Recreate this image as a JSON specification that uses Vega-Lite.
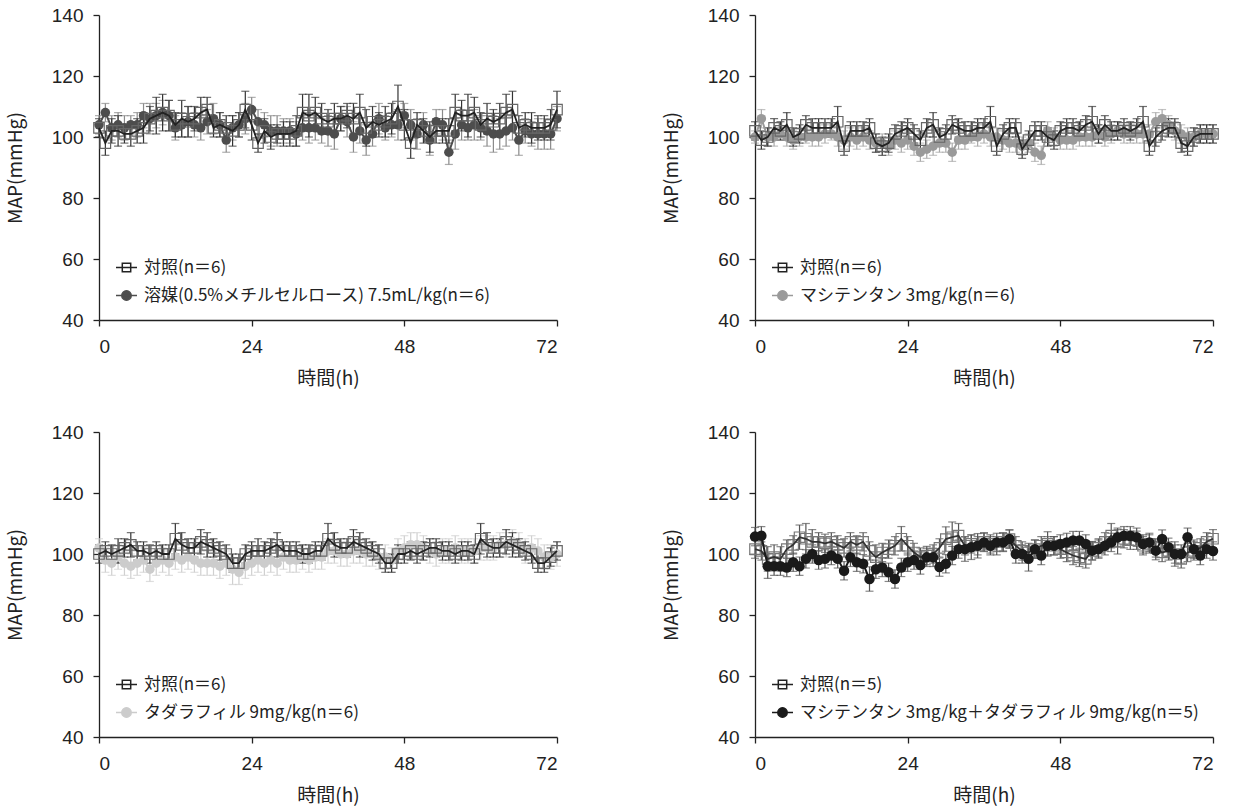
{
"$schema":"https://vega.github.io/schema/vega-lite/v6.json",
"background":"white",
"padding":{"left":6,"top":6,"right":5,"bottom":5},
"datasets":{
"tl":[
{"g":"c","h":0,"v":103,"e":3},{"g":"c","h":1,"v":98,"e":4},{"g":"c","h":2,"v":102,"e":4},{"g":"c","h":3,"v":102,"e":5},{"g":"c","h":4,"v":101,"e":3},{"g":"c","h":5,"v":101,"e":4},{"g":"c","h":6,"v":102,"e":4},{"g":"c","h":7,"v":103,"e":5},{"g":"c","h":8,"v":106,"e":4},{"g":"c","h":9,"v":107,"e":6},
{"g":"c","h":10,"v":108,"e":6},{"g":"c","h":11,"v":107,"e":5},{"g":"c","h":12,"v":104,"e":4},{"g":"c","h":13,"v":106,"e":6},{"g":"c","h":14,"v":105,"e":5},{"g":"c","h":15,"v":106,"e":4},{"g":"c","h":16,"v":108,"e":5},{"g":"c","h":17,"v":109,"e":4},{"g":"c","h":18,"v":103,"e":3},{"g":"c","h":19,"v":104,"e":4},
{"g":"c","h":20,"v":103,"e":4},{"g":"c","h":21,"v":102,"e":5},{"g":"c","h":22,"v":104,"e":4},{"g":"c","h":23,"v":109,"e":6},{"g":"c","h":24,"v":104,"e":5},{"g":"c","h":25,"v":98,"e":3},{"g":"c","h":26,"v":102,"e":4},{"g":"c","h":27,"v":100,"e":4},{"g":"c","h":28,"v":101,"e":3},{"g":"c","h":29,"v":101,"e":4},
{"g":"c","h":30,"v":101,"e":4},{"g":"c","h":31,"v":102,"e":5},{"g":"c","h":32,"v":108,"e":6},{"g":"c","h":33,"v":107,"e":7},{"g":"c","h":34,"v":108,"e":5},{"g":"c","h":35,"v":106,"e":5},{"g":"c","h":36,"v":105,"e":4},{"g":"c","h":37,"v":106,"e":5},{"g":"c","h":38,"v":106,"e":4},{"g":"c","h":39,"v":107,"e":4},
{"g":"c","h":40,"v":106,"e":5},{"g":"c","h":41,"v":108,"e":6},{"g":"c","h":42,"v":103,"e":6},{"g":"c","h":43,"v":105,"e":5},{"g":"c","h":44,"v":104,"e":4},{"g":"c","h":45,"v":105,"e":5},{"g":"c","h":46,"v":106,"e":5},{"g":"c","h":47,"v":110,"e":7},{"g":"c","h":48,"v":104,"e":5},{"g":"c","h":49,"v":98,"e":5},
{"g":"c","h":50,"v":104,"e":4},{"g":"c","h":51,"v":102,"e":4},{"g":"c","h":52,"v":100,"e":5},{"g":"c","h":53,"v":102,"e":4},{"g":"c","h":54,"v":102,"e":4},{"g":"c","h":55,"v":102,"e":4},{"g":"c","h":56,"v":108,"e":6},{"g":"c","h":57,"v":107,"e":5},{"g":"c","h":58,"v":107,"e":7},{"g":"c","h":59,"v":108,"e":5},
{"g":"c","h":60,"v":104,"e":4},{"g":"c","h":61,"v":106,"e":5},{"g":"c","h":62,"v":105,"e":4},{"g":"c","h":63,"v":106,"e":5},{"g":"c","h":64,"v":108,"e":6},{"g":"c","h":65,"v":109,"e":6},{"g":"c","h":66,"v":103,"e":4},{"g":"c","h":67,"v":104,"e":4},{"g":"c","h":68,"v":103,"e":5},{"g":"c","h":69,"v":103,"e":4},
{"g":"c","h":70,"v":103,"e":4},{"g":"c","h":71,"v":104,"e":5},{"g":"c","h":72,"v":109,"e":6},
{"g":"t","h":0,"v":104,"e":3},{"g":"t","h":1,"v":108,"e":3},{"g":"t","h":2,"v":103,"e":4},{"g":"t","h":3,"v":104,"e":4},{"g":"t","h":4,"v":103,"e":4},{"g":"t","h":5,"v":104,"e":3},{"g":"t","h":6,"v":104,"e":4},{"g":"t","h":7,"v":107,"e":4},{"g":"t","h":8,"v":106,"e":5},{"g":"t","h":9,"v":107,"e":4},
{"g":"t","h":10,"v":108,"e":4},{"g":"t","h":11,"v":107,"e":5},{"g":"t","h":12,"v":103,"e":4},{"g":"t","h":13,"v":104,"e":4},{"g":"t","h":14,"v":105,"e":5},{"g":"t","h":15,"v":104,"e":4},{"g":"t","h":16,"v":103,"e":4},{"g":"t","h":17,"v":105,"e":4},{"g":"t","h":18,"v":106,"e":5},{"g":"t","h":19,"v":104,"e":4},
{"g":"t","h":20,"v":99,"e":4},{"g":"t","h":21,"v":103,"e":4},{"g":"t","h":22,"v":104,"e":4},{"g":"t","h":23,"v":106,"e":5},{"g":"t","h":24,"v":109,"e":4},{"g":"t","h":25,"v":105,"e":4},{"g":"t","h":26,"v":104,"e":4},{"g":"t","h":27,"v":102,"e":5},{"g":"t","h":28,"v":102,"e":5},{"g":"t","h":29,"v":102,"e":4},
{"g":"t","h":30,"v":102,"e":4},{"g":"t","h":31,"v":101,"e":4},{"g":"t","h":32,"v":103,"e":4},{"g":"t","h":33,"v":103,"e":5},{"g":"t","h":34,"v":103,"e":4},{"g":"t","h":35,"v":102,"e":4},{"g":"t","h":36,"v":102,"e":5},{"g":"t","h":37,"v":101,"e":5},{"g":"t","h":38,"v":106,"e":4},{"g":"t","h":39,"v":105,"e":5},
{"g":"t","h":40,"v":100,"e":5},{"g":"t","h":41,"v":102,"e":4},{"g":"t","h":42,"v":99,"e":5},{"g":"t","h":43,"v":101,"e":4},{"g":"t","h":44,"v":106,"e":5},{"g":"t","h":45,"v":103,"e":4},{"g":"t","h":46,"v":104,"e":4},{"g":"t","h":47,"v":104,"e":5},{"g":"t","h":48,"v":107,"e":4},{"g":"t","h":49,"v":104,"e":5},
{"g":"t","h":50,"v":101,"e":5},{"g":"t","h":51,"v":104,"e":4},{"g":"t","h":52,"v":99,"e":5},{"g":"t","h":53,"v":105,"e":4},{"g":"t","h":54,"v":104,"e":5},{"g":"t","h":55,"v":95,"e":4},{"g":"t","h":56,"v":101,"e":5},{"g":"t","h":57,"v":104,"e":5},{"g":"t","h":58,"v":103,"e":4},{"g":"t","h":59,"v":104,"e":5},
{"g":"t","h":60,"v":103,"e":4},{"g":"t","h":61,"v":102,"e":5},{"g":"t","h":62,"v":101,"e":6},{"g":"t","h":63,"v":101,"e":5},{"g":"t","h":64,"v":102,"e":5},{"g":"t","h":65,"v":103,"e":4},{"g":"t","h":66,"v":99,"e":5},{"g":"t","h":67,"v":102,"e":4},{"g":"t","h":68,"v":101,"e":4},{"g":"t","h":69,"v":101,"e":5},
{"g":"t","h":70,"v":101,"e":5},{"g":"t","h":71,"v":101,"e":5},{"g":"t","h":72,"v":106,"e":4}
],
"tr":[
{"g":"c","h":0,"v":102,"e":3},{"g":"c","h":1,"v":99,"e":3},{"g":"c","h":2,"v":100,"e":3},{"g":"c","h":3,"v":103,"e":3},{"g":"c","h":4,"v":102,"e":3},{"g":"c","h":5,"v":104,"e":4},{"g":"c","h":6,"v":100,"e":3},{"g":"c","h":7,"v":101,"e":3},{"g":"c","h":8,"v":104,"e":3},{"g":"c","h":9,"v":103,"e":3},
{"g":"c","h":10,"v":103,"e":3},{"g":"c","h":11,"v":103,"e":3},{"g":"c","h":12,"v":103,"e":3},{"g":"c","h":13,"v":105,"e":5},{"g":"c","h":14,"v":97,"e":3},{"g":"c","h":15,"v":102,"e":3},{"g":"c","h":16,"v":102,"e":3},{"g":"c","h":17,"v":102,"e":3},{"g":"c","h":18,"v":103,"e":3},{"g":"c","h":19,"v":98,"e":3},
{"g":"c","h":20,"v":97,"e":3},{"g":"c","h":21,"v":98,"e":3},{"g":"c","h":22,"v":101,"e":3},{"g":"c","h":23,"v":102,"e":3},{"g":"c","h":24,"v":103,"e":3},{"g":"c","h":25,"v":101,"e":3},{"g":"c","h":26,"v":99,"e":3},{"g":"c","h":27,"v":103,"e":3},{"g":"c","h":28,"v":104,"e":4},{"g":"c","h":29,"v":100,"e":3},
{"g":"c","h":30,"v":101,"e":3},{"g":"c","h":31,"v":104,"e":3},{"g":"c","h":32,"v":103,"e":3},{"g":"c","h":33,"v":102,"e":3},{"g":"c","h":34,"v":102,"e":3},{"g":"c","h":35,"v":103,"e":3},{"g":"c","h":36,"v":103,"e":3},{"g":"c","h":37,"v":105,"e":5},{"g":"c","h":38,"v":97,"e":3},{"g":"c","h":39,"v":101,"e":3},
{"g":"c","h":40,"v":103,"e":3},{"g":"c","h":41,"v":103,"e":3},{"g":"c","h":42,"v":96,"e":3},{"g":"c","h":43,"v":99,"e":3},{"g":"c","h":44,"v":102,"e":3},{"g":"c","h":45,"v":102,"e":3},{"g":"c","h":46,"v":100,"e":3},{"g":"c","h":47,"v":99,"e":3},{"g":"c","h":48,"v":102,"e":3},{"g":"c","h":49,"v":103,"e":3},
{"g":"c","h":50,"v":103,"e":3},{"g":"c","h":51,"v":102,"e":3},{"g":"c","h":52,"v":104,"e":3},{"g":"c","h":53,"v":105,"e":5},{"g":"c","h":54,"v":101,"e":3},{"g":"c","h":55,"v":104,"e":3},{"g":"c","h":56,"v":102,"e":3},{"g":"c","h":57,"v":102,"e":3},{"g":"c","h":58,"v":103,"e":3},{"g":"c","h":59,"v":102,"e":3},
{"g":"c","h":60,"v":103,"e":3},{"g":"c","h":61,"v":105,"e":5},{"g":"c","h":62,"v":97,"e":3},{"g":"c","h":63,"v":100,"e":3},{"g":"c","h":64,"v":102,"e":3},{"g":"c","h":65,"v":103,"e":3},{"g":"c","h":66,"v":103,"e":3},{"g":"c","h":67,"v":98,"e":3},{"g":"c","h":68,"v":97,"e":3},{"g":"c","h":69,"v":100,"e":3},
{"g":"c","h":70,"v":101,"e":3},{"g":"c","h":71,"v":101,"e":3},{"g":"c","h":72,"v":101,"e":3},
{"g":"t","h":0,"v":100,"e":2},{"g":"t","h":1,"v":106,"e":3},{"g":"t","h":2,"v":100,"e":3},{"g":"t","h":3,"v":100,"e":3},{"g":"t","h":4,"v":101,"e":2},{"g":"t","h":5,"v":100,"e":3},{"g":"t","h":6,"v":99,"e":3},{"g":"t","h":7,"v":100,"e":3},{"g":"t","h":8,"v":100,"e":2},{"g":"t","h":9,"v":100,"e":3},
{"g":"t","h":10,"v":100,"e":3},{"g":"t","h":11,"v":101,"e":3},{"g":"t","h":12,"v":101,"e":2},{"g":"t","h":13,"v":100,"e":3},{"g":"t","h":14,"v":99,"e":3},{"g":"t","h":15,"v":100,"e":3},{"g":"t","h":16,"v":99,"e":3},{"g":"t","h":17,"v":100,"e":3},{"g":"t","h":18,"v":99,"e":3},{"g":"t","h":19,"v":98,"e":3},
{"g":"t","h":20,"v":98,"e":3},{"g":"t","h":21,"v":97,"e":3},{"g":"t","h":22,"v":99,"e":3},{"g":"t","h":23,"v":98,"e":3},{"g":"t","h":24,"v":99,"e":3},{"g":"t","h":25,"v":97,"e":3},{"g":"t","h":26,"v":95,"e":3},{"g":"t","h":27,"v":96,"e":3},{"g":"t","h":28,"v":97,"e":3},{"g":"t","h":29,"v":98,"e":3},
{"g":"t","h":30,"v":98,"e":3},{"g":"t","h":31,"v":95,"e":3},{"g":"t","h":32,"v":99,"e":3},{"g":"t","h":33,"v":99,"e":3},{"g":"t","h":34,"v":100,"e":2},{"g":"t","h":35,"v":100,"e":3},{"g":"t","h":36,"v":101,"e":3},{"g":"t","h":37,"v":100,"e":3},{"g":"t","h":38,"v":100,"e":3},{"g":"t","h":39,"v":99,"e":3},
{"g":"t","h":40,"v":98,"e":3},{"g":"t","h":41,"v":98,"e":3},{"g":"t","h":42,"v":97,"e":3},{"g":"t","h":43,"v":98,"e":3},{"g":"t","h":44,"v":95,"e":3},{"g":"t","h":45,"v":94,"e":3},{"g":"t","h":46,"v":102,"e":3},{"g":"t","h":47,"v":100,"e":3},{"g":"t","h":48,"v":99,"e":3},{"g":"t","h":49,"v":99,"e":3},
{"g":"t","h":50,"v":99,"e":3},{"g":"t","h":51,"v":100,"e":3},{"g":"t","h":52,"v":100,"e":3},{"g":"t","h":53,"v":100,"e":3},{"g":"t","h":54,"v":101,"e":3},{"g":"t","h":55,"v":100,"e":3},{"g":"t","h":56,"v":101,"e":3},{"g":"t","h":57,"v":102,"e":3},{"g":"t","h":58,"v":101,"e":3},{"g":"t","h":59,"v":101,"e":3},
{"g":"t","h":60,"v":101,"e":3},{"g":"t","h":61,"v":101,"e":3},{"g":"t","h":62,"v":101,"e":3},{"g":"t","h":63,"v":105,"e":3},{"g":"t","h":64,"v":106,"e":3},{"g":"t","h":65,"v":104,"e":3},{"g":"t","h":66,"v":102,"e":3},{"g":"t","h":67,"v":101,"e":3},{"g":"t","h":68,"v":100,"e":3},{"g":"t","h":69,"v":100,"e":3},
{"g":"t","h":70,"v":101,"e":3},{"g":"t","h":71,"v":101,"e":3},{"g":"t","h":72,"v":101,"e":3}
],
"bl":[
{"g":"c","h":0,"v":100,"e":3},{"g":"c","h":1,"v":101,"e":3},{"g":"c","h":2,"v":100,"e":3},{"g":"c","h":3,"v":101,"e":4},{"g":"c","h":4,"v":102,"e":3},{"g":"c","h":5,"v":103,"e":4},{"g":"c","h":6,"v":101,"e":3},{"g":"c","h":7,"v":101,"e":3},{"g":"c","h":8,"v":100,"e":3},{"g":"c","h":9,"v":101,"e":3},
{"g":"c","h":10,"v":100,"e":3},{"g":"c","h":11,"v":100,"e":3},{"g":"c","h":12,"v":105,"e":5},{"g":"c","h":13,"v":103,"e":4},{"g":"c","h":14,"v":102,"e":3},{"g":"c","h":15,"v":102,"e":3},{"g":"c","h":16,"v":104,"e":4},{"g":"c","h":17,"v":103,"e":4},{"g":"c","h":18,"v":102,"e":3},{"g":"c","h":19,"v":101,"e":3},
{"g":"c","h":20,"v":100,"e":3},{"g":"c","h":21,"v":97,"e":3},{"g":"c","h":22,"v":97,"e":3},{"g":"c","h":23,"v":100,"e":3},{"g":"c","h":24,"v":101,"e":3},{"g":"c","h":25,"v":101,"e":4},{"g":"c","h":26,"v":101,"e":3},{"g":"c","h":27,"v":102,"e":3},{"g":"c","h":28,"v":103,"e":4},{"g":"c","h":29,"v":101,"e":3},
{"g":"c","h":30,"v":101,"e":3},{"g":"c","h":31,"v":101,"e":3},{"g":"c","h":32,"v":100,"e":3},{"g":"c","h":33,"v":100,"e":3},{"g":"c","h":34,"v":101,"e":3},{"g":"c","h":35,"v":101,"e":3},{"g":"c","h":36,"v":105,"e":5},{"g":"c","h":37,"v":103,"e":4},{"g":"c","h":38,"v":102,"e":3},{"g":"c","h":39,"v":102,"e":3},
{"g":"c","h":40,"v":104,"e":4},{"g":"c","h":41,"v":103,"e":4},{"g":"c","h":42,"v":102,"e":3},{"g":"c","h":43,"v":101,"e":3},{"g":"c","h":44,"v":100,"e":3},{"g":"c","h":45,"v":97,"e":3},{"g":"c","h":46,"v":97,"e":3},{"g":"c","h":47,"v":100,"e":3},{"g":"c","h":48,"v":100,"e":3},{"g":"c","h":49,"v":101,"e":3},
{"g":"c","h":50,"v":100,"e":3},{"g":"c","h":51,"v":101,"e":3},{"g":"c","h":52,"v":102,"e":3},{"g":"c","h":53,"v":102,"e":3},{"g":"c","h":54,"v":101,"e":3},{"g":"c","h":55,"v":101,"e":3},{"g":"c","h":56,"v":100,"e":3},{"g":"c","h":57,"v":101,"e":3},{"g":"c","h":58,"v":101,"e":3},{"g":"c","h":59,"v":100,"e":3},
{"g":"c","h":60,"v":105,"e":5},{"g":"c","h":61,"v":103,"e":4},{"g":"c","h":62,"v":102,"e":3},{"g":"c","h":63,"v":102,"e":3},{"g":"c","h":64,"v":104,"e":4},{"g":"c","h":65,"v":103,"e":4},{"g":"c","h":66,"v":102,"e":3},{"g":"c","h":67,"v":101,"e":3},{"g":"c","h":68,"v":100,"e":3},{"g":"c","h":69,"v":97,"e":3},
{"g":"c","h":70,"v":97,"e":3},{"g":"c","h":71,"v":99,"e":3},{"g":"c","h":72,"v":101,"e":3},
{"g":"t","h":0,"v":102,"e":3},{"g":"t","h":1,"v":98,"e":4},{"g":"t","h":2,"v":97,"e":4},{"g":"t","h":3,"v":99,"e":4},{"g":"t","h":4,"v":97,"e":4},{"g":"t","h":5,"v":96,"e":4},{"g":"t","h":6,"v":97,"e":4},{"g":"t","h":7,"v":98,"e":4},{"g":"t","h":8,"v":95,"e":4},{"g":"t","h":9,"v":97,"e":4},
{"g":"t","h":10,"v":98,"e":4},{"g":"t","h":11,"v":97,"e":4},{"g":"t","h":12,"v":99,"e":4},{"g":"t","h":13,"v":98,"e":4},{"g":"t","h":14,"v":99,"e":4},{"g":"t","h":15,"v":98,"e":4},{"g":"t","h":16,"v":97,"e":4},{"g":"t","h":17,"v":97,"e":4},{"g":"t","h":18,"v":97,"e":4},{"g":"t","h":19,"v":96,"e":4},
{"g":"t","h":20,"v":97,"e":4},{"g":"t","h":21,"v":95,"e":5},{"g":"t","h":22,"v":94,"e":4},{"g":"t","h":23,"v":96,"e":4},{"g":"t","h":24,"v":97,"e":4},{"g":"t","h":25,"v":98,"e":4},{"g":"t","h":26,"v":97,"e":4},{"g":"t","h":27,"v":98,"e":4},{"g":"t","h":28,"v":97,"e":4},{"g":"t","h":29,"v":99,"e":4},
{"g":"t","h":30,"v":98,"e":4},{"g":"t","h":31,"v":98,"e":4},{"g":"t","h":32,"v":99,"e":4},{"g":"t","h":33,"v":98,"e":4},{"g":"t","h":34,"v":99,"e":4},{"g":"t","h":35,"v":99,"e":4},{"g":"t","h":36,"v":101,"e":4},{"g":"t","h":37,"v":101,"e":4},{"g":"t","h":38,"v":100,"e":4},{"g":"t","h":39,"v":100,"e":4},
{"g":"t","h":40,"v":101,"e":4},{"g":"t","h":41,"v":101,"e":4},{"g":"t","h":42,"v":100,"e":4},{"g":"t","h":43,"v":100,"e":4},{"g":"t","h":44,"v":99,"e":4},{"g":"t","h":45,"v":99,"e":4},{"g":"t","h":46,"v":98,"e":4},{"g":"t","h":47,"v":101,"e":4},{"g":"t","h":48,"v":102,"e":4},{"g":"t","h":49,"v":103,"e":4},
{"g":"t","h":50,"v":103,"e":4},{"g":"t","h":51,"v":102,"e":4},{"g":"t","h":52,"v":101,"e":4},{"g":"t","h":53,"v":100,"e":4},{"g":"t","h":54,"v":101,"e":4},{"g":"t","h":55,"v":101,"e":4},{"g":"t","h":56,"v":102,"e":4},{"g":"t","h":57,"v":101,"e":4},{"g":"t","h":58,"v":101,"e":4},{"g":"t","h":59,"v":101,"e":4},
{"g":"t","h":60,"v":102,"e":4},{"g":"t","h":61,"v":102,"e":4},{"g":"t","h":62,"v":102,"e":4},{"g":"t","h":63,"v":103,"e":4},{"g":"t","h":64,"v":103,"e":4},{"g":"t","h":65,"v":104,"e":4},{"g":"t","h":66,"v":103,"e":4},{"g":"t","h":67,"v":101,"e":4},{"g":"t","h":68,"v":102,"e":4},{"g":"t","h":69,"v":101,"e":4},
{"g":"t","h":70,"v":99,"e":4},{"g":"t","h":71,"v":99,"e":4},{"g":"t","h":72,"v":100,"e":4}
],
"br":[
{"g":"c","h":0,"v":101.6,"e":3},{"g":"c","h":1,"v":101,"e":3},{"g":"c","h":2,"v":98.4,"e":4},{"g":"c","h":3,"v":99,"e":4},{"g":"c","h":4,"v":98.4,"e":4},{"g":"c","h":5,"v":101.6,"e":3},{"g":"c","h":6,"v":103,"e":3},{"g":"c","h":7,"v":105.5,"e":4},{"g":"c","h":8,"v":105,"e":5},{"g":"c","h":9,"v":104,"e":4},
{"g":"c","h":10,"v":104,"e":3},{"g":"c","h":11,"v":103.5,"e":3},{"g":"c","h":12,"v":104,"e":3},{"g":"c","h":13,"v":103,"e":3},{"g":"c","h":14,"v":102,"e":3},{"g":"c","h":15,"v":104,"e":3},{"g":"c","h":16,"v":103,"e":3},{"g":"c","h":17,"v":104,"e":3},{"g":"c","h":18,"v":101,"e":3},{"g":"c","h":19,"v":99,"e":4},
{"g":"c","h":20,"v":100.5,"e":3},{"g":"c","h":21,"v":101.6,"e":3},{"g":"c","h":22,"v":102.7,"e":3},{"g":"c","h":23,"v":105,"e":4},{"g":"c","h":24,"v":102.7,"e":3},{"g":"c","h":25,"v":100.5,"e":3},{"g":"c","h":26,"v":99,"e":3},{"g":"c","h":27,"v":99.5,"e":3},{"g":"c","h":28,"v":100,"e":3},{"g":"c","h":29,"v":102,"e":3},
{"g":"c","h":30,"v":104.9,"e":4},{"g":"c","h":31,"v":105.5,"e":5},{"g":"c","h":32,"v":106,"e":4},{"g":"c","h":33,"v":102.7,"e":3},{"g":"c","h":34,"v":103.3,"e":3},{"g":"c","h":35,"v":102.7,"e":3},{"g":"c","h":36,"v":104,"e":3},{"g":"c","h":37,"v":103.3,"e":3},{"g":"c","h":38,"v":102.7,"e":3},{"g":"c","h":39,"v":104,"e":3},
{"g":"c","h":40,"v":104.9,"e":3},{"g":"c","h":41,"v":102.7,"e":3},{"g":"c","h":42,"v":101,"e":3},{"g":"c","h":43,"v":100.5,"e":3},{"g":"c","h":44,"v":101.6,"e":3},{"g":"c","h":45,"v":102.7,"e":3},{"g":"c","h":46,"v":103.3,"e":4},{"g":"c","h":47,"v":102.7,"e":3},{"g":"c","h":48,"v":101.6,"e":3},{"g":"c","h":49,"v":100.5,"e":3},
{"g":"c","h":50,"v":99.5,"e":3},{"g":"c","h":51,"v":98.9,"e":3},{"g":"c","h":52,"v":98.4,"e":3},{"g":"c","h":53,"v":101,"e":3},{"g":"c","h":54,"v":102,"e":3},{"g":"c","h":55,"v":104,"e":3},{"g":"c","h":56,"v":106,"e":4},{"g":"c","h":57,"v":104,"e":4},{"g":"c","h":58,"v":105,"e":3},{"g":"c","h":59,"v":104.5,"e":3},
{"g":"c","h":60,"v":104.5,"e":3},{"g":"c","h":61,"v":102.7,"e":3},{"g":"c","h":62,"v":103.3,"e":3},{"g":"c","h":63,"v":102,"e":3},{"g":"c","h":64,"v":100.5,"e":3},{"g":"c","h":65,"v":101,"e":3},{"g":"c","h":66,"v":100,"e":3},{"g":"c","h":67,"v":98.4,"e":3},{"g":"c","h":68,"v":100.5,"e":3},{"g":"c","h":69,"v":101,"e":3},
{"g":"c","h":70,"v":102,"e":3},{"g":"c","h":71,"v":104,"e":3},{"g":"c","h":72,"v":105,"e":3},
{"g":"t","h":0,"v":105.7,"e":3},{"g":"t","h":1,"v":106,"e":3},{"g":"t","h":2,"v":96,"e":4},{"g":"t","h":3,"v":96,"e":3},{"g":"t","h":4,"v":96,"e":3},{"g":"t","h":5,"v":95.6,"e":3},{"g":"t","h":6,"v":97.3,"e":3},{"g":"t","h":7,"v":96,"e":3},{"g":"t","h":8,"v":98.4,"e":3},{"g":"t","h":9,"v":100,"e":3},
{"g":"t","h":10,"v":98,"e":3},{"g":"t","h":11,"v":98.4,"e":3},{"g":"t","h":12,"v":99.5,"e":3},{"g":"t","h":13,"v":98.4,"e":3},{"g":"t","h":14,"v":94.5,"e":3},{"g":"t","h":15,"v":98.9,"e":3},{"g":"t","h":16,"v":97.3,"e":3},{"g":"t","h":17,"v":96.8,"e":3},{"g":"t","h":18,"v":91.8,"e":4},{"g":"t","h":19,"v":95,"e":3},
{"g":"t","h":20,"v":95.6,"e":3},{"g":"t","h":21,"v":94,"e":3},{"g":"t","h":22,"v":91.8,"e":3},{"g":"t","h":23,"v":95.6,"e":3},{"g":"t","h":24,"v":97.3,"e":3},{"g":"t","h":25,"v":98,"e":3},{"g":"t","h":26,"v":96.4,"e":3},{"g":"t","h":27,"v":98.9,"e":3},{"g":"t","h":28,"v":98.9,"e":3},{"g":"t","h":29,"v":95.7,"e":3},
{"g":"t","h":30,"v":96.8,"e":3},{"g":"t","h":31,"v":99.5,"e":3},{"g":"t","h":32,"v":101.6,"e":3},{"g":"t","h":33,"v":101.6,"e":4},{"g":"t","h":34,"v":102.2,"e":4},{"g":"t","h":35,"v":102.7,"e":4},{"g":"t","h":36,"v":103.8,"e":3},{"g":"t","h":37,"v":102.7,"e":3},{"g":"t","h":38,"v":103.8,"e":3},{"g":"t","h":39,"v":103.8,"e":3},
{"g":"t","h":40,"v":104.9,"e":3},{"g":"t","h":41,"v":100,"e":3},{"g":"t","h":42,"v":100,"e":3},{"g":"t","h":43,"v":98.4,"e":4},{"g":"t","h":44,"v":101.6,"e":3},{"g":"t","h":45,"v":99.5,"e":3},{"g":"t","h":46,"v":102.7,"e":3},{"g":"t","h":47,"v":102.7,"e":3},{"g":"t","h":48,"v":103.3,"e":3},{"g":"t","h":49,"v":103.8,"e":3},
{"g":"t","h":50,"v":104.4,"e":3},{"g":"t","h":51,"v":104.4,"e":3},{"g":"t","h":52,"v":103.3,"e":3},{"g":"t","h":53,"v":101.1,"e":3},{"g":"t","h":54,"v":101.6,"e":3},{"g":"t","h":55,"v":102.7,"e":3},{"g":"t","h":56,"v":103.8,"e":3},{"g":"t","h":57,"v":105.5,"e":3},{"g":"t","h":58,"v":106,"e":3},{"g":"t","h":59,"v":106,"e":3},
{"g":"t","h":60,"v":105.5,"e":3},{"g":"t","h":61,"v":103.3,"e":3},{"g":"t","h":62,"v":103.8,"e":3},{"g":"t","h":63,"v":101.1,"e":3},{"g":"t","h":64,"v":104.9,"e":3},{"g":"t","h":65,"v":102.2,"e":3},{"g":"t","h":66,"v":100,"e":4},{"g":"t","h":67,"v":100,"e":3},{"g":"t","h":68,"v":105.5,"e":3},{"g":"t","h":69,"v":101.6,"e":3},
{"g":"t","h":70,"v":99.5,"e":3},{"g":"t","h":71,"v":101.6,"e":3},{"g":"t","h":72,"v":101,"e":3}
]
},
"spacing":35,
"resolve":{"scale":{"shape":"independent","fill":"independent","stroke":"independent"},"legend":{"shape":"independent","fill":"independent","stroke":"independent"}},
"vconcat":[
{"spacing":95,
"resolve":{"scale":{"shape":"independent","fill":"independent","stroke":"independent"},"legend":{"shape":"independent","fill":"independent","stroke":"independent"}},
"hconcat":[
{"width":458,"height":305,"data":{"name":"tl"},
"encoding":{"x":{"field":"h","type":"quantitative","scale":{"domain":[0,72],"nice":false,"zero":false},"axis":{"values":[0,24,48,72],"title":"時間(h)"}},
"y":{"field":"v","type":"quantitative","scale":{"domain":[40,140],"nice":false,"zero":false},"axis":{"values":[40,60,80,100,120,140],"title":"MAP(mmHg)"}}},
"layer":[
{"transform":[{"filter":"datum.g==='t'"}],"mark":{"type":"errorbar","ticks":{"size":8},"color":"#8a8a8a","thickness":1.2},"encoding":{"yError":{"field":"e"}}},
{"transform":[{"filter":"datum.g==='c'"}],"mark":{"type":"errorbar","ticks":{"size":8},"color":"#333333","thickness":1.2},"encoding":{"yError":{"field":"e"}}},
{"transform":[{"filter":"datum.g==='t'"}],"mark":{"type":"line","color":"#4d4d4d","strokeWidth":2},"encoding":{}},
{"transform":[{"filter":"datum.g==='t'"}],"mark":{"type":"point","shape":"circle","filled":true,"color":"#4d4d4d","size":90,"opacity":1}},
{"transform":[{"filter":"datum.g==='c'"}],"mark":{"type":"point","shape":"square","filled":false,"color":"#666666","size":110,"strokeWidth":1.2,"opacity":1}},
{"transform":[{"filter":"datum.g==='c'"}],"mark":{"type":"line","color":"#222222","strokeWidth":1.8},"encoding":{}},
{"mark":{"type":"point","opacity":0,"size":400,"filled":true},
"encoding":{
"shape":{"field":"g","type":"nominal","scale":{"domain":["c","t"],"range":["M-1,0H1M-0.4,-0.4H0.4V0.4H-0.4Z","M-1,0H1M-0.45,0A0.45,0.45 0 1,1 0.45,0A0.45,0.45 0 1,1 -0.45,0Z"]},"legend":{"title":null,"labelExpr":"datum.value==='c'?'対照(n＝6)':'溶媒(0.5%メチルセルロース) 7.5mL/kg(n＝6)'","encode":{"symbols":{"update":{"size":{"value":441},"opacity":{"value":1},"fillOpacity":{"value":1},"strokeWidth":{"value":1.5},"fill":{"signal":"datum.value==='c'?'transparent':'#4d4d4d'"},"stroke":{"signal":"datum.value==='c'?'#222222':'#4d4d4d'"}}}}}},
"fill":{"field":"g","type":"nominal","scale":{"domain":["c","t"],"range":["transparent","#4d4d4d"]},"legend":{"title":null,"labelExpr":"datum.value==='c'?'対照(n＝6)':'溶媒(0.5%メチルセルロース) 7.5mL/kg(n＝6)'","encode":{"symbols":{"update":{"size":{"value":441},"opacity":{"value":1},"fillOpacity":{"value":1},"strokeWidth":{"value":1.5},"fill":{"signal":"datum.value==='c'?'transparent':'#4d4d4d'"},"stroke":{"signal":"datum.value==='c'?'#222222':'#4d4d4d'"}}}}}},
"stroke":{"field":"g","type":"nominal","scale":{"domain":["c","t"],"range":["#222222","#4d4d4d"]},"legend":{"title":null,"labelExpr":"datum.value==='c'?'対照(n＝6)':'溶媒(0.5%メチルセルロース) 7.5mL/kg(n＝6)'","encode":{"symbols":{"update":{"size":{"value":441},"opacity":{"value":1},"fillOpacity":{"value":1},"strokeWidth":{"value":1.5},"fill":{"signal":"datum.value==='c'?'transparent':'#4d4d4d'"},"stroke":{"signal":"datum.value==='c'?'#222222':'#4d4d4d'"}}}}}}}}
]},
{"width":458,"height":305,"data":{"name":"tr"},
"encoding":{"x":{"field":"h","type":"quantitative","scale":{"domain":[0,72],"nice":false,"zero":false},"axis":{"values":[0,24,48,72],"title":"時間(h)"}},
"y":{"field":"v","type":"quantitative","scale":{"domain":[40,140],"nice":false,"zero":false},"axis":{"values":[40,60,80,100,120,140],"title":"MAP(mmHg)"}}},
"layer":[
{"transform":[{"filter":"datum.g==='t'"}],"mark":{"type":"errorbar","ticks":{"size":8},"color":"#aaaaaa","thickness":1.2},"encoding":{"yError":{"field":"e"}}},
{"transform":[{"filter":"datum.g==='c'"}],"mark":{"type":"errorbar","ticks":{"size":8},"color":"#333333","thickness":1.2},"encoding":{"yError":{"field":"e"}}},
{"transform":[{"filter":"datum.g==='t'"}],"mark":{"type":"line","color":"#9a9a9a","strokeWidth":2},"encoding":{}},
{"transform":[{"filter":"datum.g==='t'"}],"mark":{"type":"point","shape":"circle","filled":true,"color":"#9a9a9a","size":90,"opacity":1}},
{"transform":[{"filter":"datum.g==='c'"}],"mark":{"type":"point","shape":"square","filled":false,"color":"#666666","size":110,"strokeWidth":1.2,"opacity":1}},
{"transform":[{"filter":"datum.g==='c'"}],"mark":{"type":"line","color":"#222222","strokeWidth":1.8},"encoding":{}},
{"mark":{"type":"point","opacity":0,"size":400,"filled":true},
"encoding":{
"shape":{"field":"g","type":"nominal","scale":{"domain":["c","t"],"range":["M-1,0H1M-0.4,-0.4H0.4V0.4H-0.4Z","M-1,0H1M-0.45,0A0.45,0.45 0 1,1 0.45,0A0.45,0.45 0 1,1 -0.45,0Z"]},"legend":{"title":null,"labelExpr":"datum.value==='c'?'対照(n＝6)':'マシテンタン 3mg/kg(n＝6)'","encode":{"symbols":{"update":{"size":{"value":441},"opacity":{"value":1},"fillOpacity":{"value":1},"strokeWidth":{"value":1.5},"fill":{"signal":"datum.value==='c'?'transparent':'#9a9a9a'"},"stroke":{"signal":"datum.value==='c'?'#222222':'#9a9a9a'"}}}}}},
"fill":{"field":"g","type":"nominal","scale":{"domain":["c","t"],"range":["transparent","#9a9a9a"]},"legend":{"title":null,"labelExpr":"datum.value==='c'?'対照(n＝6)':'マシテンタン 3mg/kg(n＝6)'","encode":{"symbols":{"update":{"size":{"value":441},"opacity":{"value":1},"fillOpacity":{"value":1},"strokeWidth":{"value":1.5},"fill":{"signal":"datum.value==='c'?'transparent':'#9a9a9a'"},"stroke":{"signal":"datum.value==='c'?'#222222':'#9a9a9a'"}}}}}},
"stroke":{"field":"g","type":"nominal","scale":{"domain":["c","t"],"range":["#222222","#9a9a9a"]},"legend":{"title":null,"labelExpr":"datum.value==='c'?'対照(n＝6)':'マシテンタン 3mg/kg(n＝6)'","encode":{"symbols":{"update":{"size":{"value":441},"opacity":{"value":1},"fillOpacity":{"value":1},"strokeWidth":{"value":1.5},"fill":{"signal":"datum.value==='c'?'transparent':'#9a9a9a'"},"stroke":{"signal":"datum.value==='c'?'#222222':'#9a9a9a'"}}}}}}}}
]}
]},
{"spacing":95,
"resolve":{"scale":{"shape":"independent","fill":"independent","stroke":"independent"},"legend":{"shape":"independent","fill":"independent","stroke":"independent"}},
"hconcat":[
{"width":458,"height":305,"data":{"name":"bl"},
"encoding":{"x":{"field":"h","type":"quantitative","scale":{"domain":[0,72],"nice":false,"zero":false},"axis":{"values":[0,24,48,72],"title":"時間(h)"}},
"y":{"field":"v","type":"quantitative","scale":{"domain":[40,140],"nice":false,"zero":false},"axis":{"values":[40,60,80,100,120,140],"title":"MAP(mmHg)"}}},
"layer":[
{"transform":[{"filter":"datum.g==='t'"}],"mark":{"type":"errorbar","ticks":{"size":8},"color":"#d0d0d0","thickness":1.2},"encoding":{"yError":{"field":"e"}}},
{"transform":[{"filter":"datum.g==='c'"}],"mark":{"type":"errorbar","ticks":{"size":8},"color":"#333333","thickness":1.2},"encoding":{"yError":{"field":"e"}}},
{"transform":[{"filter":"datum.g==='t'"}],"mark":{"type":"line","color":"#cccccc","strokeWidth":2},"encoding":{}},
{"transform":[{"filter":"datum.g==='t'"}],"mark":{"type":"point","shape":"circle","filled":true,"color":"#cccccc","size":90,"opacity":1}},
{"transform":[{"filter":"datum.g==='c'"}],"mark":{"type":"point","shape":"square","filled":false,"color":"#666666","size":110,"strokeWidth":1.2,"opacity":1}},
{"transform":[{"filter":"datum.g==='c'"}],"mark":{"type":"line","color":"#222222","strokeWidth":1.8},"encoding":{}},
{"mark":{"type":"point","opacity":0,"size":400,"filled":true},
"encoding":{
"shape":{"field":"g","type":"nominal","scale":{"domain":["c","t"],"range":["M-1,0H1M-0.4,-0.4H0.4V0.4H-0.4Z","M-1,0H1M-0.45,0A0.45,0.45 0 1,1 0.45,0A0.45,0.45 0 1,1 -0.45,0Z"]},"legend":{"title":null,"labelExpr":"datum.value==='c'?'対照(n＝6)':'タダラフィル 9mg/kg(n＝6)'","encode":{"symbols":{"update":{"size":{"value":441},"opacity":{"value":1},"fillOpacity":{"value":1},"strokeWidth":{"value":1.5},"fill":{"signal":"datum.value==='c'?'transparent':'#cccccc'"},"stroke":{"signal":"datum.value==='c'?'#222222':'#cccccc'"}}}}}},
"fill":{"field":"g","type":"nominal","scale":{"domain":["c","t"],"range":["transparent","#cccccc"]},"legend":{"title":null,"labelExpr":"datum.value==='c'?'対照(n＝6)':'タダラフィル 9mg/kg(n＝6)'","encode":{"symbols":{"update":{"size":{"value":441},"opacity":{"value":1},"fillOpacity":{"value":1},"strokeWidth":{"value":1.5},"fill":{"signal":"datum.value==='c'?'transparent':'#cccccc'"},"stroke":{"signal":"datum.value==='c'?'#222222':'#cccccc'"}}}}}},
"stroke":{"field":"g","type":"nominal","scale":{"domain":["c","t"],"range":["#222222","#cccccc"]},"legend":{"title":null,"labelExpr":"datum.value==='c'?'対照(n＝6)':'タダラフィル 9mg/kg(n＝6)'","encode":{"symbols":{"update":{"size":{"value":441},"opacity":{"value":1},"fillOpacity":{"value":1},"strokeWidth":{"value":1.5},"fill":{"signal":"datum.value==='c'?'transparent':'#cccccc'"},"stroke":{"signal":"datum.value==='c'?'#222222':'#cccccc'"}}}}}}}}
]},
{"width":458,"height":305,"data":{"name":"br"},
"encoding":{"x":{"field":"h","type":"quantitative","scale":{"domain":[0,72],"nice":false,"zero":false},"axis":{"values":[0,24,48,72],"title":"時間(h)"}},
"y":{"field":"v","type":"quantitative","scale":{"domain":[40,140],"nice":false,"zero":false},"axis":{"values":[40,60,80,100,120,140],"title":"MAP(mmHg)"}}},
"layer":[
{"transform":[{"filter":"datum.g==='t'"}],"mark":{"type":"errorbar","ticks":{"size":8},"color":"#555555","thickness":1.2},"encoding":{"yError":{"field":"e"}}},
{"transform":[{"filter":"datum.g==='c'"}],"mark":{"type":"errorbar","ticks":{"size":8},"color":"#555555","thickness":1.2},"encoding":{"yError":{"field":"e"}}},
{"transform":[{"filter":"datum.g==='c'"}],"mark":{"type":"point","shape":"square","filled":false,"color":"#777777","size":110,"strokeWidth":1.2,"opacity":1}},
{"transform":[{"filter":"datum.g==='c'"}],"mark":{"type":"line","color":"#333333","strokeWidth":1.8},"encoding":{}},
{"transform":[{"filter":"datum.g==='t'"}],"mark":{"type":"line","color":"#1a1a1a","strokeWidth":2},"encoding":{}},
{"transform":[{"filter":"datum.g==='t'"}],"mark":{"type":"point","shape":"circle","filled":true,"color":"#1a1a1a","size":110,"opacity":1}},
{"mark":{"type":"point","opacity":0,"size":400,"filled":true},
"encoding":{
"shape":{"field":"g","type":"nominal","scale":{"domain":["c","t"],"range":["M-1,0H1M-0.4,-0.4H0.4V0.4H-0.4Z","M-1,0H1M-0.45,0A0.45,0.45 0 1,1 0.45,0A0.45,0.45 0 1,1 -0.45,0Z"]},"legend":{"title":null,"labelExpr":"datum.value==='c'?'対照(n＝5)':'マシテンタン 3mg/kg＋タダラフィル 9mg/kg(n＝5)'","encode":{"symbols":{"update":{"size":{"value":441},"opacity":{"value":1},"fillOpacity":{"value":1},"strokeWidth":{"value":1.5},"fill":{"signal":"datum.value==='c'?'transparent':'#1a1a1a'"},"stroke":{"signal":"datum.value==='c'?'#222222':'#1a1a1a'"}}}}}},
"fill":{"field":"g","type":"nominal","scale":{"domain":["c","t"],"range":["transparent","#1a1a1a"]},"legend":{"title":null,"labelExpr":"datum.value==='c'?'対照(n＝5)':'マシテンタン 3mg/kg＋タダラフィル 9mg/kg(n＝5)'","encode":{"symbols":{"update":{"size":{"value":441},"opacity":{"value":1},"fillOpacity":{"value":1},"strokeWidth":{"value":1.5},"fill":{"signal":"datum.value==='c'?'transparent':'#1a1a1a'"},"stroke":{"signal":"datum.value==='c'?'#222222':'#1a1a1a'"}}}}}},
"stroke":{"field":"g","type":"nominal","scale":{"domain":["c","t"],"range":["#222222","#1a1a1a"]},"legend":{"title":null,"labelExpr":"datum.value==='c'?'対照(n＝5)':'マシテンタン 3mg/kg＋タダラフィル 9mg/kg(n＝5)'","encode":{"symbols":{"update":{"size":{"value":441},"opacity":{"value":1},"fillOpacity":{"value":1},"strokeWidth":{"value":1.5},"fill":{"signal":"datum.value==='c'?'transparent':'#1a1a1a'"},"stroke":{"signal":"datum.value==='c'?'#222222':'#1a1a1a'"}}}}}}}}
]}
]}
],
"config":{
"view":{"stroke":null},
"axis":{"grid":false,"domainColor":"#222222","tickColor":"#222222","domainWidth":1.3,"tickWidth":1.3,"tickSize":6,"labelFont":"Liberation Sans","labelFontSize":19,"labelColor":"#222222","titleFont":"Noto Sans CJK JP","titleFontSize":19,"titleFontWeight":"normal","titleColor":"#222222"},
"axisX":{"labelPadding":11,"titlePadding":13},
"axisY":{"labelPadding":10,"titlePadding":26},
"legend":{"orient":"bottom-left","offset":16,"padding":0,"rowPadding":8,"labelFont":"Noto Sans CJK JP","labelFontSize":17,"labelColor":"#222222","labelLimit":0,"symbolSize":441,"symbolStrokeWidth":1.5,"labelOffset":6}
}
}
